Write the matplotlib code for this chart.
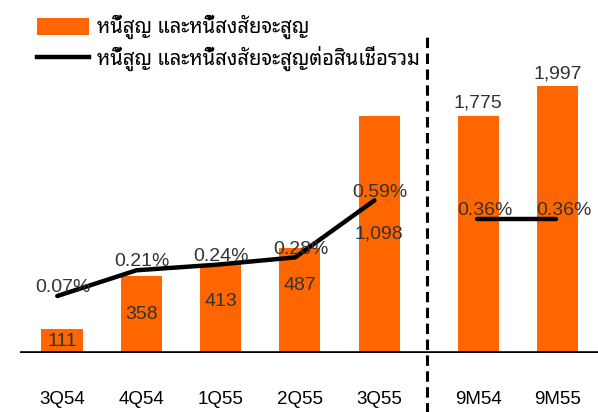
import matplotlib
matplotlib.use("Agg")
import matplotlib.pyplot as plt
from matplotlib import font_manager as fm
from matplotlib.patches import Patch
from matplotlib.lines import Line2D
import numpy as np

# ---- data ----
quarters = ["3Q54", "4Q54", "1Q55", "2Q55", "3Q55"]
q_values = [111, 358, 413, 487, 1098]
q_labels = ["111", "358", "413", "487", "1,098"]
q_ratio = [0.07, 0.21, 0.24, 0.28, 0.59]

periods = ["9M54", "9M55"]
p_values = [1775, 1997]
p_labels = ["1,775", "1,997"]
p_ratio = [0.36, 0.36]

legend_bar = "หนี้สูญ และหนี้สงสัยจะสูญ"
legend_line = "หนี้สูญ และหนี้สงสัยจะสูญต่อสินเชื่อรวม"

# ---- fonts ----
names = {f.name for f in fm.fontManager.ttflist}
thai_font = next((n for n in ["Noto Sans Thai Looped", "Noto Sans Thai", "Sarabun",
                              "IBM Plex Sans Thai Looped", "Anuphan"] if n in names), "DejaVu Sans")
latin = "Liberation Sans"
plt.rcParams["font.family"] = [latin, thai_font, "DejaVu Sans"]

ORANGE = "#FF6600"
TXT = "#333333"
FS = 14

fig = plt.figure(figsize=(5.98, 4.12), dpi=100)
ax = fig.add_axes([20/598, 59/412, 578/598, 353/412])
ax_p = ax.twinx()
ax_ql = ax.twinx()
ax_pl = ax.twinx()
for a in (ax, ax_p, ax_ql, ax_pl):
    a.set_position([20/598, 59/412, 578/598, 353/412])
    for s in a.spines.values():
        s.set_visible(False)
    a.tick_params(left=False, right=False, labelleft=False, labelright=False)

xq = np.arange(len(quarters), dtype=float)
xp = np.arange(len(periods), dtype=float) + 5.25
bw = 0.52

ax.set_xlim(-0.53, 6.76)
ax.set_ylim(0, 1634)
ax_p.set_ylim(0, 2642)
ax_ql.set_ylim(-0.24, 1.68)
ax_pl.set_ylim(-0.0, 0.948)

bars_q = ax.bar(xq, q_values, width=bw, color=ORANGE, zorder=2)
bars_p = ax_p.bar(xp, p_values, width=bw, color=ORANGE, zorder=2)

# value labels
q_dy = [0, 0, 5, 11, 0]
for x, v, lab, dy in zip(xq, q_values, q_labels, q_dy):
    ax.annotate(lab, (x, v / 2), xytext=(0, dy), textcoords="offset points",
                ha="center", va="center", fontsize=FS, color=TXT)
for x, v, lab in zip(xp, p_values, p_labels):
    ax_p.annotate(lab, (x, v), xytext=(0, 9), textcoords="offset points",
                  ha="center", va="center", fontsize=FS, color=TXT)

# lines
lshift = -0.06
ax_ql.plot(xq + lshift, q_ratio, color="black", lw=3.2, solid_capstyle="round",
           solid_joinstyle="round", zorder=3)
ax_pl.plot(xp - 0.02, p_ratio, color="black", lw=3.2, solid_capstyle="round", zorder=3)
for x, r in zip(xq, q_ratio):
    ax_ql.annotate(f"{r:.2f}%", (x + lshift, r), xytext=(4, 6), textcoords="offset points",
                   ha="center", va="center", fontsize=FS, color=TXT, zorder=4)
for x, r in zip(xp, p_ratio):
    ax_pl.annotate(f"{r:.2f}%", (x - 0.02, r), xytext=(6, 6), textcoords="offset points",
                   ha="center", va="center", fontsize=FS, color=TXT, zorder=4)

# baseline
ax_pl.axhline(0, color="black", lw=2.6, zorder=5)

# dashed separator
ax.plot([4.6, 4.6], [-0.17, 0.9], transform=ax.get_xaxis_transform(), color="black",
        lw=2.2, dashes=(3.4, 1.8), clip_on=False)

# x ticks
ax.set_xticks(list(xq) + list(xp))
ax.set_xticklabels(quarters + periods, fontsize=13.5, color="black")
ax.tick_params(axis="x", length=0, pad=27)

# legend
handles = [Patch(facecolor=ORANGE, edgecolor="none"),
           Line2D([0], [0], color="black", lw=3.2)]
leg = fig.legend(handles, [legend_bar, legend_line], loc="upper left",
                 bbox_to_anchor=(23/598, 1 - 1/412), frameon=False,
                 handlelength=2.6, handleheight=0.9,
                 handletextpad=0.35, labelspacing=0.32, borderpad=0.2,
                 prop={"family": [thai_font, latin], "size": 14.5})

fig.savefig("out.png", dpi=100)
